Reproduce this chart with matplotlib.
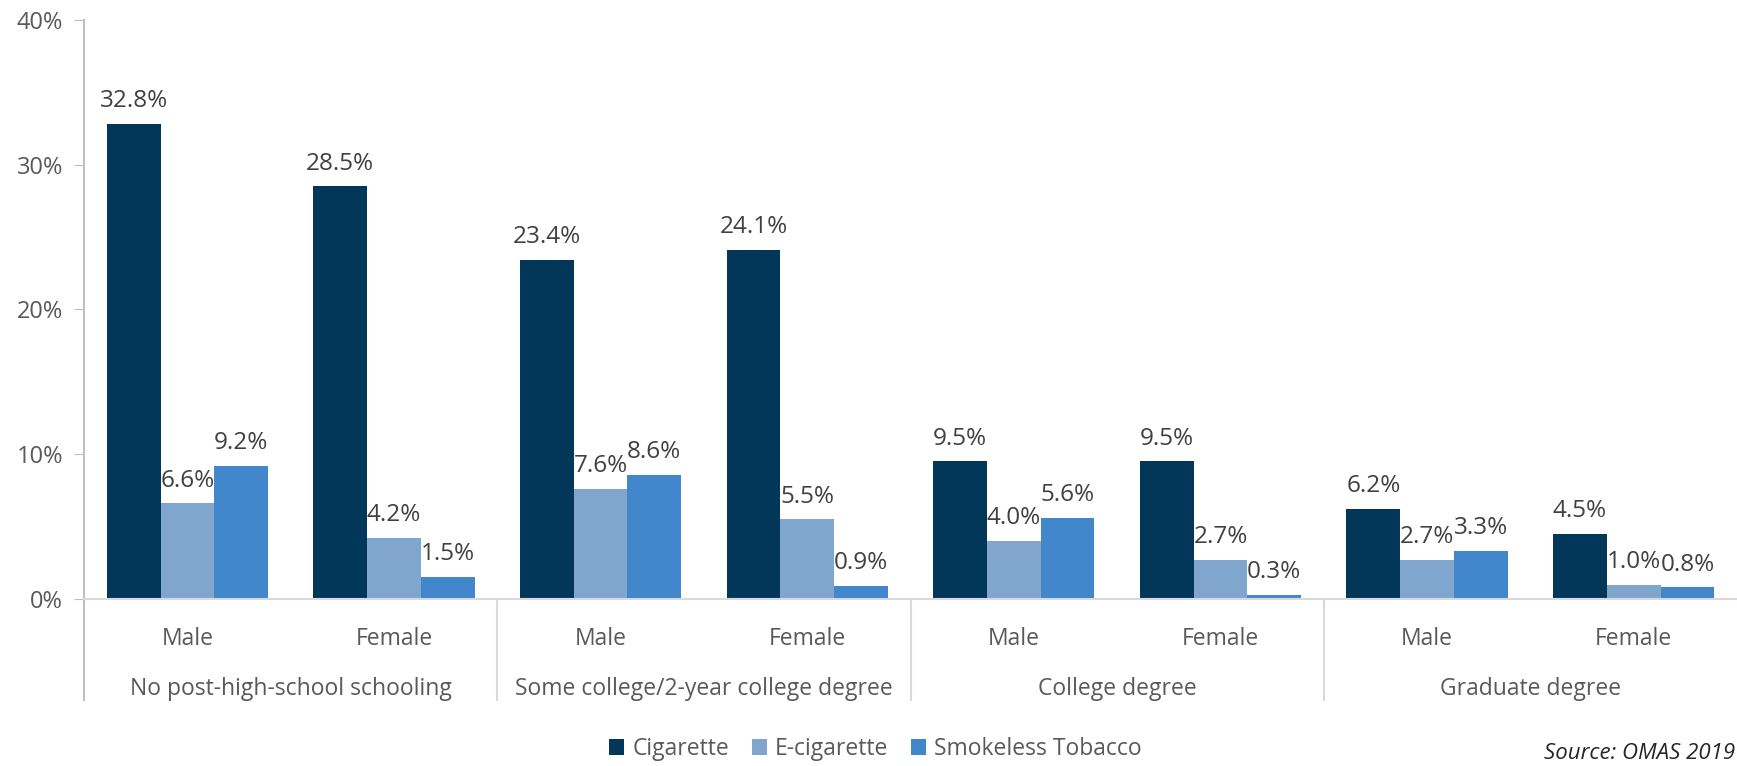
import numpy as np
import matplotlib.pyplot as plt
import matplotlib.transforms as mtransforms

# data
groups = ['No post-high-school schooling', 'Some college/2-year college degree',
          'College degree', 'Graduate degree']
sexes = ['Male', 'Female']
series = ['Cigarette', 'E-cigarette', 'Smokeless Tobacco']
cigarette = [32.8, 28.5, 23.4, 24.1, 9.5, 9.5, 6.2, 4.5]
ecigarette = [6.6, 4.2, 7.6, 5.5, 4.0, 2.7, 2.7, 1.0]
smokeless = [9.2, 1.5, 8.6, 0.9, 5.6, 0.3, 3.3, 0.8]
colors = ['#03375A', '#80A6CD', '#4286CC']
source = 'Source: OMAS 2019'

plt.rcParams['font.family'] = ['Open Sans', 'DejaVu Sans']

def main():
    fig = plt.figure(figsize=(17.37, 7.66), dpi=100)
    ax = fig.add_axes([0.0484, 0.218, 0.9516, 0.756])

    n = len(groups) * len(sexes)
    x = np.arange(n)
    w = 0.26
    values = [cigarette, ecigarette, smokeless]
    for i, (name, vals, c) in enumerate(zip(series, values, colors)):
        pos = x + (i - 1) * w
        ax.bar(pos, vals, width=w, color=c, label=name)
        for p, v in zip(pos, vals):
            ax.text(p, v + 0.75, f'{v:.1f}%', ha='center', va='bottom',
                    fontsize=17.5, color='#404040')

    ax.set_xlim(-0.5, n - 0.5)
    ax.set_ylim(0, 40)
    ax.set_yticks([0, 10, 20, 30, 40])
    ax.set_yticklabels(['0%', '10%', '20%', '30%', '40%'])
    ax.tick_params(axis='y', length=7, color='#BFBFBF', labelsize=17,
                   labelcolor='#595959', pad=8)
    ax.set_xticks(x)
    ax.set_xticklabels(sexes * len(groups))
    ax.tick_params(axis='x', length=0, labelsize=16.5, labelcolor='#595959', pad=20)

    for s in ['top', 'right']:
        ax.spines[s].set_visible(False)
    ax.spines['bottom'].set_color('#D9D9D9')
    ax.spines['bottom'].set_linewidth(1.5)
    ax.spines['left'].set_color('#BFBFBF')
    ax.spines['left'].set_linewidth(1.5)

    # group separators and group labels below the axis
    trans = mtransforms.blended_transform_factory(ax.transData, ax.transAxes)
    ax.plot([-0.5, -0.5], [0, -0.175], transform=trans, color='#BFBFBF',
            lw=1.5, clip_on=False)
    for k in range(1, len(groups)):
        xs = 2 * k - 0.5
        ax.plot([xs, xs], [0, -0.175], transform=trans, color='#D9D9D9',
                lw=1.5, clip_on=False)
    for k, g in enumerate(groups):
        ax.text(2 * k + 0.5, -0.155, g, transform=trans, ha='center',
                va='center', fontsize=16.5, color='#595959')

    fig.legend(loc='center', bbox_to_anchor=(0.504, 0.022), ncol=3,
               frameon=False, fontsize=16.5, handlelength=0.65, handleheight=0.65,
               handletextpad=0.35, columnspacing=1.0, labelcolor='#595959')

    fig.text(0.999, 0.003, source, ha='right', va='bottom', fontsize=16,
             style='italic', color='#262626')

    fig.savefig('out.png', dpi=100)

if __name__ == '__main__':
    main()
